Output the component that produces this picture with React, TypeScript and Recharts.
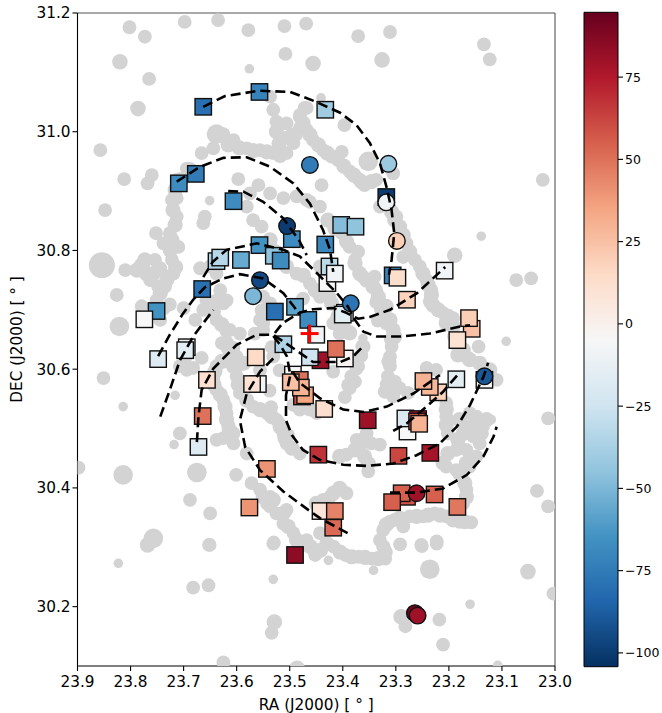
import React from "react";
import {
  Bar,
  BarChart,
  ReferenceLine,
  Scatter,
  ScatterChart,
  XAxis,
  YAxis,
} from "recharts";

// colour range of the bar, white sits at the middle of it
const vMin = -104.2;
const vMax = 94.7;
const rdBuR = ["#053061", "#2166ac", "#4393c3", "#92c5de", "#d1e5f0", "#f7f7f7", "#fddbc7", "#f4a582", "#d6604d", "#b2182b", "#67001f"];

const raTicks = [23.0, 23.1, 23.2, 23.3, 23.4, 23.5, 23.6, 23.7, 23.8, 23.9];
const decTicks = [30.2, 30.4, 30.6, 30.8, 31.0, 31.2];
const barTicks = [-100, -75, -50, -25, 0, 25, 50, 75];

// ra, dec, velocity
const squares = [
  [23.663, 31.042, -80], [23.557, 31.067, -72], [23.433, 31.037, -40], [23.677, 30.929, -75],
  [23.709, 30.913, -68], [23.606, 30.883, -68], [23.496, 30.819, -68], [23.433, 30.81, -70],
  [23.557, 30.809, -65], [23.638, 30.782, -35], [23.631, 30.788, -33], [23.592, 30.784, -55],
  [23.53, 30.791, -45], [23.517, 30.783, -68], [23.665, 30.735, -80], [23.49, 30.705, -58],
  [23.528, 30.697, -80], [23.751, 30.698, -65], [23.774, 30.684, -5], [23.465, 30.683, -68],
  [23.45, 30.658, -8], [23.512, 30.642, -35], [23.442, 30.615, 80], [23.462, 30.62, -25],
  [23.748, 30.617, -18], [23.694, 30.637, -10], [23.697, 30.632, -15], [23.564, 30.62, 15],
  [23.656, 30.582, 12], [23.56, 30.575, -8], [23.571, 30.575, 10], [23.494, 30.591, -5],
  [23.477, 30.554, 60], [23.481, 30.582, 50], [23.471, 30.556, 35], [23.479, 30.569, 30],
  [23.498, 30.578, 25], [23.664, 30.521, 50], [23.672, 30.469, -18], [23.543, 30.432, 40],
  [23.576, 30.367, 40], [23.442, 30.361, 8], [23.415, 30.361, 45], [23.418, 30.333, 52],
  [23.49, 30.287, 85], [23.396, 30.618, -2], [23.413, 30.634, 50], [23.435, 30.533, 12],
  [23.353, 30.514, 80], [23.446, 30.456, 68], [23.295, 30.454, 62], [23.235, 30.459, 78],
  [23.157, 30.668, 25], [23.162, 30.686, 20], [23.184, 30.649, 10], [23.22, 30.561, 18],
  [23.236, 30.57, 28], [23.248, 30.58, 30], [23.186, 30.583, -15], [23.278, 30.495, -5],
  [23.282, 30.517, -20], [23.258, 30.516, 75], [23.26, 30.512, 60], [23.256, 30.508, 30],
  [23.133, 30.582, -5], [23.279, 30.385, 58], [23.289, 30.391, 55], [23.307, 30.376, 55],
  [23.227, 30.389, 55], [23.184, 30.368, 48], [23.396, 30.695, -8], [23.4, 30.692, -15],
  [23.279, 30.717, 18], [23.403, 30.843, -48], [23.376, 30.84, -45], [23.425, 30.773, -32],
  [23.429, 30.745, -5], [23.415, 30.761, -8], [23.318, 30.89, -100], [23.306, 30.758, -72],
  [23.297, 30.754, 13], [23.208, 30.766, -8],
];

const circles = [
  [23.462, 30.944, -75], [23.505, 30.841, -100], [23.569, 30.723, -50], [23.556, 30.75, -95],
  [23.314, 30.946, -42], [23.318, 30.881, -8], [23.298, 30.816, 20], [23.385, 30.711, -78],
  [23.261, 30.391, 80], [23.133, 30.588, -90], [23.264, 30.189, 92], [23.259, 30.185, 80],
];

const galaxyCentre = [[23.4625, 30.66]];

const arms = [
  [[23.663, 31.042], [23.622, 31.06], [23.558, 31.069], [23.499, 31.067], [23.452, 31.051], [23.405, 31.032], [23.374, 31.011], [23.349, 30.981], [23.33, 30.947], [23.317, 30.905], [23.308, 30.868], [23.303, 30.829], [23.308, 30.784], [23.313, 30.759]],
  [[23.713, 30.916], [23.669, 30.941], [23.625, 30.956], [23.581, 30.957], [23.537, 30.941], [23.493, 30.913], [23.462, 30.879], [23.437, 30.834], [23.424, 30.801], [23.418, 30.764]],
  [[23.616, 30.9], [23.587, 30.899], [23.55, 30.882], [23.512, 30.854], [23.481, 30.815], [23.468, 30.792]],
  [[23.744, 30.52], [23.726, 30.565], [23.707, 30.615], [23.682, 30.655], [23.644, 30.7]],
  [[23.748, 30.622], [23.726, 30.658], [23.701, 30.694], [23.682, 30.717], [23.66, 30.738], [23.625, 30.753], [23.594, 30.76], [23.55, 30.753], [23.512, 30.728], [23.49, 30.703], [23.486, 30.693]],
  [[23.663, 30.755], [23.645, 30.781], [23.619, 30.801], [23.562, 30.812], [23.512, 30.801], [23.481, 30.79], [23.449, 30.762], [23.411, 30.728], [23.39, 30.705], [23.377, 30.683], [23.361, 30.663], [23.336, 30.655], [23.292, 30.655], [23.236, 30.66], [23.179, 30.672], [23.16, 30.674]],
  [[23.675, 30.477], [23.672, 30.52], [23.666, 30.565], [23.644, 30.601], [23.6, 30.641], [23.562, 30.658], [23.531, 30.658], [23.488, 30.632], [23.456, 30.612], [23.405, 30.612], [23.381, 30.621], [23.362, 30.638]],
  [[23.531, 30.618], [23.556, 30.596], [23.581, 30.559], [23.594, 30.514], [23.584, 30.469], [23.556, 30.43], [23.512, 30.394], [23.456, 30.357], [23.443, 30.349], [23.383, 30.32]],
  [[23.531, 30.656], [23.518, 30.641], [23.505, 30.621], [23.499, 30.59], [23.507, 30.556], [23.507, 30.514], [23.496, 30.489], [23.475, 30.464], [23.443, 30.447], [23.399, 30.439], [23.355, 30.437], [23.305, 30.441], [23.261, 30.455], [23.217, 30.475], [23.185, 30.503], [23.16, 30.54], [23.135, 30.587], [23.126, 30.611]],
  [[23.494, 30.595], [23.481, 30.577], [23.443, 30.551], [23.399, 30.532], [23.361, 30.528], [23.317, 30.537], [23.267, 30.559], [23.217, 30.59]],
  [[23.305, 30.496], [23.279, 30.509], [23.242, 30.537], [23.211, 30.562], [23.182, 30.592]],
  [[23.311, 30.392], [23.261, 30.392], [23.211, 30.399], [23.166, 30.422], [23.135, 30.453], [23.116, 30.486], [23.11, 30.503]],
  [[23.528, 30.661], [23.513, 30.678], [23.481, 30.695], [23.456, 30.701], [23.418, 30.703], [23.396, 30.696], [23.371, 30.685], [23.349, 30.688], [23.311, 30.7], [23.26, 30.728], [23.207, 30.772]],
];

// grey HI clouds behind the markers, grouped by how big they were drawn
const cloudsTiny = [
  [23.576, 31.106], [23.441, 31.057], [23.651, 30.884], [23.139, 30.824], [23.814, 30.537], [23.716, 30.556],
  [23.718, 30.473], [23.092, 30.647], [23.12, 30.515], [23.362, 30.652], [23.418, 30.593], [23.823, 30.273],
  [23.531, 30.246], [23.427, 30.278], [23.342, 30.261], [23.16, 30.204], [23.108, 30.101],
];
const cloudsSmall = [
  [23.802, 31.176], [23.698, 31.185], [23.469, 31.182], [23.311, 31.168], [23.134, 31.147], [23.508, 31.131],
  [23.51, 31.178], [23.371, 31.161], [23.123, 31.122], [23.765, 31.089], [23.635, 31.188], [23.578, 31.171], [23.773, 31.16],
  [23.857, 30.969], [23.848, 30.868], [23.81, 30.767], [23.812, 30.92], [23.76, 30.927], [23.768, 30.913],
  [23.537, 31.059], [23.531, 31.037], [23.525, 31.017], [23.506, 31.014], [23.481, 31.025], [23.468, 31.04],
  [23.481, 31.006], [23.5, 30.992], [23.512, 30.989], [23.493, 30.981], [23.506, 30.964], [23.531, 30.964],
  [23.556, 30.969], [23.581, 30.972], [23.606, 30.986], [23.625, 30.996], [23.644, 30.972], [23.666, 30.964],
  [23.694, 30.938], [23.713, 30.919], [23.713, 30.888], [23.722, 30.885], [23.713, 30.857], [23.726, 30.829],
  [23.752, 30.829], [23.738, 30.812], [23.71, 30.806], [23.722, 30.784], [23.719, 30.761], [23.735, 30.739],
  [23.751, 30.716], [23.738, 30.702], [23.754, 30.784], [23.744, 30.77], [23.763, 30.75], [23.748, 30.739],
  [23.826, 30.725], [23.66, 30.857], [23.663, 30.846], [23.597, 30.92], [23.575, 30.896], [23.559, 30.91],
  [23.537, 30.896], [23.512, 30.888], [23.487, 30.891], [23.462, 30.882], [23.581, 30.874], [23.569, 30.851],
  [23.553, 30.84], [23.65, 30.773], [23.669, 30.77], [23.638, 30.761], [23.657, 30.716], [23.631, 30.733],
  [23.638, 30.716], [23.619, 30.716], [23.487, 30.761], [23.462, 30.744], [23.443, 30.773],
  [23.472, 31.04], [23.481, 31.028], [23.397, 31.011], [23.468, 31.003], [23.456, 30.986], [23.437, 30.969],
  [23.421, 30.958], [23.402, 30.966], [23.409, 30.952], [23.387, 30.933], [23.371, 30.921], [23.359, 30.91],
  [23.337, 30.919], [23.305, 30.93], [23.33, 30.874], [23.299, 30.857], [23.28, 30.812], [23.286, 30.789],
  [23.264, 30.784], [23.255, 30.773], [23.242, 30.75], [23.233, 30.733], [23.236, 30.714], [23.073, 30.75],
  [23.045, 30.753], [23.023, 30.919], [23.44, 30.91], [23.468, 30.885], [23.443, 30.874], [23.402, 30.829],
  [23.387, 30.806], [23.371, 30.798], [23.377, 30.784], [23.362, 30.756], [23.34, 30.756], [23.337, 30.733],
  [23.33, 30.711], [23.851, 30.585], [23.707, 30.492], [23.601, 30.422], [23.688, 30.38],
  [23.65, 30.357], [23.651, 30.304], [23.53, 30.308], [23.779, 30.706], [23.744, 30.683], [23.726, 30.709],
  [23.7, 30.703], [23.678, 30.683], [23.707, 30.605], [23.694, 30.599], [23.682, 30.602], [23.666, 30.619],
  [23.697, 30.619], [23.663, 30.7], [23.638, 30.683], [23.619, 30.664], [23.628, 30.644], [23.606, 30.636],
  [23.619, 30.613], [23.638, 30.605], [23.644, 30.585], [23.638, 30.565], [23.625, 30.548], [23.619, 30.526],
  [23.616, 30.506], [23.606, 30.492], [23.625, 30.484], [23.638, 30.481], [23.606, 30.475], [23.6, 30.588],
  [23.594, 30.56], [23.569, 30.537], [23.543, 30.526], [23.525, 30.515], [23.512, 30.492], [23.506, 30.475],
  [23.481, 30.458], [23.581, 30.458], [23.572, 30.408], [23.556, 30.397], [23.537, 30.369], [23.525, 30.357],
  [23.506, 30.363], [23.512, 30.34], [23.493, 30.324], [23.481, 30.301], [23.543, 30.374], [23.537, 30.385],
  [23.556, 30.683], [23.55, 30.666], [23.537, 30.711], [23.625, 30.711], [23.6, 30.621], [23.493, 30.54],
  [23.481, 30.532], [23.462, 30.532], [23.449, 30.526], [23.233, 30.711], [23.211, 30.695], [23.192, 30.686],
  [23.186, 30.641], [23.167, 30.621], [23.144, 30.638], [23.11, 30.582], [23.148, 30.52], [23.161, 30.526],
  [23.136, 30.503], [23.17, 30.503], [23.154, 30.487], [23.142, 30.475], [23.167, 30.464], [23.186, 30.464],
  [23.148, 30.453], [23.205, 30.436], [23.186, 30.43], [23.161, 30.436], [23.167, 30.397], [23.173, 30.374],
  [23.205, 30.52], [23.205, 30.543], [23.202, 30.492], [23.308, 30.638], [23.311, 30.621], [23.311, 30.605],
  [23.315, 30.588], [23.321, 30.562], [23.302, 30.579], [23.293, 30.568], [23.305, 30.554], [23.277, 30.56],
  [23.242, 30.602], [23.224, 30.599], [23.377, 30.579], [23.387, 30.568], [23.384, 30.588], [23.371, 30.605],
  [23.368, 30.621], [23.418, 30.596], [23.374, 30.481], [23.355, 30.492], [23.346, 30.475], [23.33, 30.473],
  [23.368, 30.47], [23.393, 30.456], [23.352, 30.428], [23.424, 30.385], [23.437, 30.38], [23.393, 30.391],
  [23.324, 30.329], [23.33, 30.312], [23.302, 30.346], [23.274, 30.352], [23.249, 30.352], [23.227, 30.357],
  [23.205, 30.352], [23.18, 30.343], [23.158, 30.342], [23.311, 30.343], [23.286, 30.335], [23.324, 30.301],
  [23.252, 30.304], [23.223, 30.31], [23.468, 30.312], [23.443, 30.324], [23.452, 30.287], [23.417, 30.301],
  [23.395, 30.287], [23.37, 30.284], [23.345, 30.281], [23.32, 30.281], [23.323, 30.301], [23.292, 30.305],
  [23.251, 30.302], [23.223, 30.306], [23.218, 30.178], [23.282, 30.167], [23.211, 30.136], [23.682, 30.232],
  [23.653, 30.236], [23.652, 30.304], [23.534, 30.156], [23.625, 30.106], [23.531, 30.306], [23.003, 30.222],
  [23.55, 30.722], [23.553, 30.699], [23.55, 30.677], [23.613, 30.666], [23.607, 30.604], [23.418, 30.677],
  [23.406, 30.66], [23.365, 30.623], [23.374, 30.601], [23.39, 30.573], [23.396, 30.553], [23.456, 30.531],
  [23.481, 30.539], [23.538, 30.564], [23.535, 30.536], [23.519, 30.508], [23.503, 30.489], [23.531, 30.621],
  [23.519, 30.598], [23.556, 30.598], [23.534, 30.637], [23.566, 30.66], [23.594, 30.66], [23.613, 30.637],
  [23.475, 30.719], [23.443, 30.722], [23.425, 30.722], [23.337, 30.713], [23.334, 30.682], [23.318, 30.677],
  [23.013, 30.517], [23.034, 30.395], [23.013, 30.369], [23.898, 30.434],
];
const cloudsFilament = [
  [23.688, 30.936], [23.707, 30.919], [23.716, 30.902], [23.72, 30.868], [23.716, 30.843], [23.722, 30.818],
  [23.725, 30.8], [23.715, 30.772], [23.73, 30.755], [23.616, 30.978], [23.595, 30.973], [23.568, 30.968],
  [23.543, 30.966], [23.518, 30.96], [23.525, 31.0], [23.52, 30.98], [23.49, 30.995], [23.475, 31.015],
  [23.462, 30.995], [23.446, 30.978], [23.429, 30.964], [23.398, 30.942], [23.379, 30.927], [23.365, 30.916],
  [23.346, 30.916], [23.308, 30.865], [23.302, 30.851], [23.293, 30.84], [23.286, 30.826], [23.274, 30.798],
  [23.249, 30.761], [23.239, 30.742], [23.233, 30.725], [23.23, 30.708], [23.22, 30.7], [23.201, 30.689],
  [23.192, 30.672], [23.189, 30.655], [23.173, 30.633], [23.183, 30.624], [23.161, 30.616], [23.142, 30.61],
  [23.123, 30.599], [23.205, 30.678], [23.428, 30.851], [23.415, 30.837], [23.393, 30.815], [23.377, 30.778],
  [23.368, 30.761], [23.355, 30.75], [23.343, 30.739], [23.333, 30.722], [23.327, 30.702], [23.318, 30.706],
  [23.311, 30.683], [23.305, 30.666], [23.302, 30.655], [23.308, 30.65], [23.313, 30.613], [23.316, 30.574],
  [23.537, 30.818], [23.528, 30.798], [23.506, 30.773], [23.474, 30.758], [23.452, 30.733], [23.443, 30.728],
  [23.421, 30.711], [23.409, 30.689], [23.399, 30.672], [23.387, 30.661], [23.362, 30.638], [23.644, 30.697],
  [23.628, 30.675], [23.619, 30.644], [23.616, 30.636], [23.628, 30.613], [23.641, 30.596], [23.643, 30.574],
  [23.631, 30.557], [23.622, 30.537], [23.619, 30.515], [23.614, 30.498], [23.597, 30.574], [23.581, 30.548],
  [23.556, 30.532], [23.534, 30.52], [23.518, 30.503], [23.509, 30.484], [23.496, 30.467], [23.55, 30.385],
  [23.531, 30.38], [23.512, 30.357], [23.503, 30.335], [23.487, 30.312], [23.587, 30.61], [23.6, 30.605],
  [23.318, 30.338], [23.293, 30.349], [23.261, 30.352], [23.239, 30.354], [23.217, 30.354], [23.192, 30.346],
  [23.17, 30.343], [23.405, 30.292], [23.383, 30.284], [23.358, 30.283], [23.333, 30.281], [23.32, 30.292],
  [23.43, 30.306], [23.442, 30.295], [23.461, 30.301], [23.474, 30.306], [23.418, 30.391], [23.45, 30.374],
  [23.18, 30.515], [23.183, 30.481], [23.173, 30.492], [23.158, 30.503], [23.139, 30.492], [23.129, 30.515],
  [23.167, 30.442], [23.18, 30.425], [23.17, 30.408], [23.167, 30.385], [23.205, 30.532], [23.205, 30.506],
  [23.202, 30.458], [23.211, 30.442], [23.362, 30.481], [23.406, 30.453], [23.377, 30.464], [23.359, 30.453],
  [23.352, 30.441], [23.788, 30.767], [23.757, 30.761], [23.773, 30.784], [23.732, 30.75], [23.744, 30.728],
];
const cloudsMid = [
  [23.82, 31.118], [23.456, 31.115], [23.326, 31.121], [23.786, 31.039], [23.189, 30.792],
  [23.29, 30.183], [23.529, 30.174], [23.051, 30.259], [23.486, 30.096], [23.768, 30.304], [23.406, 30.399],
  [23.779, 30.775], [23.77, 30.761],
];
const cloudsLarge = [
  [23.638, 30.996], [23.352, 30.95], [23.821, 30.672], [23.814, 30.422], [23.675, 30.426], [23.757, 30.315],
  [23.236, 30.263],
];
const cloudsHuge = [[23.854, 30.775]];

const toPoints = (rows: number[][]) => rows.map(([ra, dec, v]) => ({ ra, dec, v }));

function hexToRgb(hex: string) {
  return [1, 3, 5].map((i) => parseInt(hex.slice(i, i + 2), 16));
}

function colourOf(v: number) {
  const t = Math.min(0.9999, Math.max(0, (v - vMin) / (vMax - vMin))) * (rdBuR.length - 1);
  const i = Math.floor(t);
  const a = hexToRgb(rdBuR[i]);
  const b = hexToRgb(rdBuR[i + 1]);
  const mix = a.map((c, k) => Math.round(c + (b[k] - c) * (t - i)));
  return `rgb(${mix.join(",")})`;
}

const cloud = (r: number) => (p: any) => <circle cx={p.cx} cy={p.cy} r={r} fill="#d3d3d3" />;

const SquareMark = (p: any) => (
  <rect x={p.cx - 8.2} y={p.cy - 8.2} width={16.4} height={16.4} fill={colourOf(p.payload.v)} stroke="#111" strokeWidth={1.4} />
);
const CircleMark = (p: any) => (
  <circle cx={p.cx} cy={p.cy} r={8.3} fill={colourOf(p.payload.v)} stroke="#111" strokeWidth={1.4} />
);
const Plus = (p: any) => (
  <g stroke="#ff0000" strokeWidth={3}>
    <line x1={p.cx - 9} x2={p.cx + 9} y1={p.cy} y2={p.cy} />
    <line x1={p.cx} x2={p.cx} y1={p.cy - 9} y2={p.cy + 9} />
  </g>
);

const font = "'DejaVu Sans'";
const tickStyle = { fill: "#000", fontSize: 15.3, fontFamily: font };
const axisLine = { stroke: "#000", strokeWidth: 1.1 };

const cloudGroups: [number[][], number][] = [
  [cloudsTiny, 4.8],
  [cloudsSmall, 6.9],
  [cloudsFilament, 7.6],
  [cloudsMid, 7.8],
  [cloudsLarge, 9.8],
  [cloudsHuge, 13],
];

export default function App() {
  return (
    <div style={{ position: "absolute", left: 0, top: 0, width: 662, height: 713, background: "#fff" }}>
      <div style={{ position: "absolute", left: 0, top: 0 }}>
        <ScatterChart width={662} height={713} margin={{ top: 13, right: 107, bottom: 0, left: 0 }}>
          {cloudGroups.map(([rows, r], i) => (
            <Scatter key={`cloud${i}`} data={toPoints(rows)} dataKey="dec" shape={cloud(r)} isAnimationActive={false} />
          ))}
          <Scatter data={toPoints(squares)} dataKey="dec" shape={SquareMark} isAnimationActive={false} />
          <Scatter data={toPoints(circles)} dataKey="dec" shape={CircleMark} isAnimationActive={false} />
          {arms.map((arm, i) => (
            <Scatter
              key={`arm${i}`}
              data={toPoints(arm)}
              dataKey="dec"
              shape={() => null}
              line={{ stroke: "#000", strokeWidth: 2.6, strokeDasharray: "10 5", fill: "none" }}
              isAnimationActive={false}
            />
          ))}
          <Scatter data={toPoints(galaxyCentre)} dataKey="dec" shape={Plus} isAnimationActive={false} />
          <XAxis
            type="number"
            dataKey="ra"
            domain={[23.0, 23.9]}
            reversed
            allowDataOverflow
            ticks={raTicks}
            interval={0}
            tickFormatter={(v: number) => v.toFixed(1)}
            tick={tickStyle}
            tickSize={5}
            tickMargin={5}
            tickLine={axisLine}
            axisLine={axisLine}
            height={47}
            label={{ value: "RA (J2000) [ ° ]", position: "insideBottom", offset: 3, fill: "#000", fontSize: 15.3, fontFamily: font }}
          />
          <YAxis
            type="number"
            dataKey="dec"
            domain={[30.1, 31.2]}
            allowDataOverflow
            ticks={decTicks}
            interval={0}
            tickFormatter={(v: number) => v.toFixed(1)}
            tick={tickStyle}
            tickSize={5}
            tickLine={axisLine}
            axisLine={axisLine}
            width={77.5}
            label={{ value: "DEC (J2000) [ ° ]", angle: -90, position: "insideLeft", offset: 17, fill: "#000", fontSize: 15.3, fontFamily: font, style: { textAnchor: "middle" } }}
          />
          <ReferenceLine x={23.0} stroke="#555" strokeWidth={1.1} />
          <ReferenceLine y={31.2} stroke="#555" strokeWidth={1.1} />
        </ScatterChart>
      </div>
      <div style={{ position: "absolute", left: 560, top: 0 }}>
        <BarChart
          width={102}
          height={713}
          data={[{ name: "v", range: [vMin, vMax] }]}
          barCategoryGap={0}
          margin={{ top: 12.3, right: 0, bottom: 46.3, left: 24 }}
        >
          <defs>
            <linearGradient id="velocityBar" x1="0" y1="1" x2="0" y2="0">
              {rdBuR.map((c, i) => (
                <stop key={c} offset={i / (rdBuR.length - 1)} stopColor={c} />
              ))}
            </linearGradient>
          </defs>
          <XAxis dataKey="name" hide />
          <YAxis
            orientation="right"
            type="number"
            domain={[vMin, vMax]}
            ticks={barTicks}
            interval={0}
            tickFormatter={(v: number) => String(v).replace("-", "\u2212")}
            tick={{ ...tickStyle, fontSize: 12.5 }}
            tickSize={5}
            tickLine={axisLine}
            axisLine={false}
            width={44}
          />
          <Bar dataKey="range" fill="url(#velocityBar)" stroke="#000" strokeWidth={1} isAnimationActive={false} />
        </BarChart>
      </div>
    </div>
  );
}
